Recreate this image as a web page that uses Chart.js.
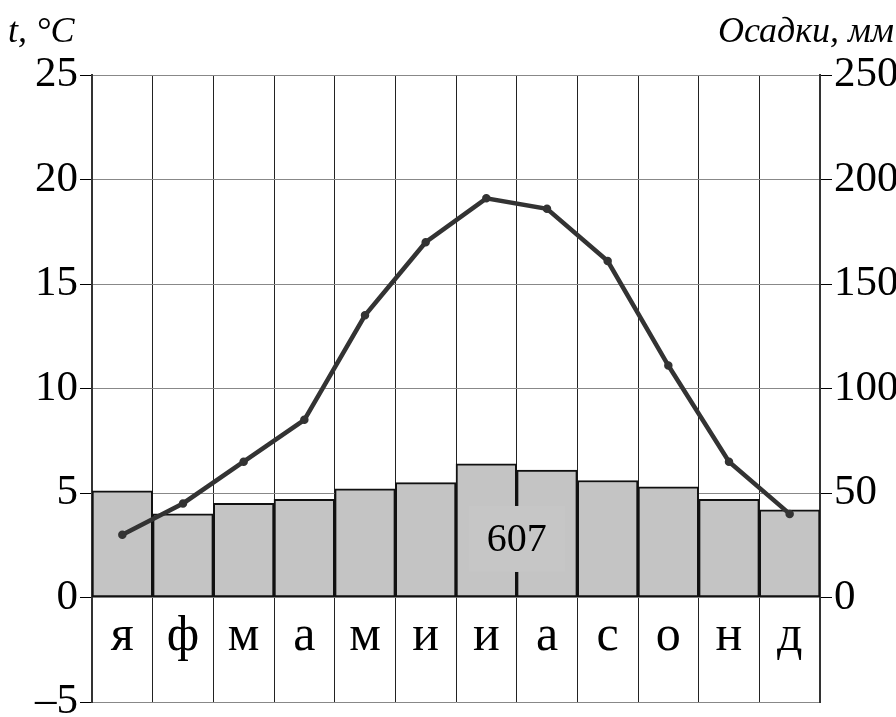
<!DOCTYPE html>
<html>
<head>
<meta charset="utf-8">
<script src="https://cdn.jsdelivr.net/npm/chart.js@4/dist/chart.umd.min.js"></script>
<style>
  html, body { margin: 0; padding: 0; background: #fff; }
  #wrap { width: 896px; height: 717px; }
</style>
</head>
<body>
<div id="wrap"><canvas id="climateChart" width="896" height="717"></canvas></div>
<script>
// months, temperature (°C) and precipitation (mm)
const months = ["я", "ф", "м", "а", "м", "и", "и", "а", "с", "о", "н", "д"];
const temperature = [3.0, 4.5, 6.5, 8.5, 13.5, 17.0, 19.1, 18.6, 16.1, 11.1, 6.5, 4.0];
const precipitation = [51, 40, 45, 47, 52, 55, 64, 61, 56, 53, 47, 42];
const totalPrecip = "607";
const tempTitle = "t, °C";
const precipTitle = "Осадки, мм";

const serif = '"Liberation Serif", "DejaVu Serif", serif';

// month letters inside the band below zero, plus the total box and axis titles
const extras = {
	id: 'extras',
	afterDatasetsDraw(chart) {
		const ctx = chart.ctx;
		const x = chart.scales.x;
		const y = chart.scales.y;
		ctx.save();

		// total precipitation box between july and august
		const bx = (x.getPixelForValue(6) + x.getPixelForValue(7)) / 2;
		const by = y.getPixelForValue(2.8);
		ctx.fillStyle = '#c6c6c6';
		ctx.fillRect(bx - 48, by - 33, 96, 66);
		ctx.fillStyle = '#000';
		ctx.font = '40px ' + serif;
		ctx.textAlign = 'center';
		ctx.textBaseline = 'middle';
		ctx.fillText(totalPrecip, bx, by + 2);

		ctx.font = '50px ' + serif;
		ctx.textBaseline = 'alphabetic';
		months.forEach((m, i) => {
			ctx.fillText(m, x.getPixelForValue(i), y.getPixelForValue(-2.5));
		});

		ctx.font = 'italic 36px ' + serif;
		ctx.textAlign = 'left';
		ctx.fillText(tempTitle, 8, 42);
		ctx.textAlign = 'right';
		ctx.fillText(precipTitle, 894, 42);
		ctx.restore();
	}
};

const config = {
	data: {
		labels: months,
		datasets: [{
			type: 'line',
			label: 't',
			data: temperature,
			yAxisID: 'y',
			borderColor: '#333',
			backgroundColor: '#333',
			borderWidth: 4.5,
			pointRadius: 2,
			tension: 0,
			order: 0
		}, {
			type: 'bar',
			label: 'Осадки',
			data: precipitation,
			yAxisID: 'y2',
			backgroundColor: '#c4c4c4',
			borderColor: '#111',
			borderWidth: 2,
			borderSkipped: false,
			barPercentage: 1,
			categoryPercentage: 1,
			order: 1
		}]
	},
	options: {
		responsive: false,
		animation: false,
		layout: {padding: {top: 75, bottom: 15}},
		plugins: {legend: {display: false}, tooltip: {enabled: false}},
		scales: {
			x: {
				offset: true,
				grid: {offset: true, color: '#222', lineWidth: 1, drawTicks: false},
				border: {display: false},
				ticks: {display: false},
				afterFit(s) { s.height = 0; }
			},
			y: {
				position: 'left',
				min: -5,
				max: 25,
				ticks: {stepSize: 5, color: '#000', font: {family: serif, size: 43}, padding: 2,
					callback: v => v < 0 ? '–' + Math.abs(v) : v},
				grid: {color: '#888', tickColor: '#000', tickLength: 12, lineWidth: 1},
				border: {color: '#333', width: 2},
				afterFit(s) { s.width = 92; s.paddingTop = 0; s.paddingBottom = 0; }
			},
			y2: {
				position: 'right',
				min: -50,
				max: 250,
				ticks: {stepSize: 50, color: '#000', font: {family: serif, size: 43}, padding: 2,
					callback: v => v < 0 ? null : v},
				grid: {drawOnChartArea: false, tickColor: '#000', tickLength: 12},
				border: {color: '#333', width: 2},
				afterFit(s) { s.width = 76; s.paddingTop = 0; s.paddingBottom = 0; }
			}
		}
	},
	plugins: [extras]
};

new Chart(document.getElementById('climateChart'), config);
</script>
</body>
</html>
